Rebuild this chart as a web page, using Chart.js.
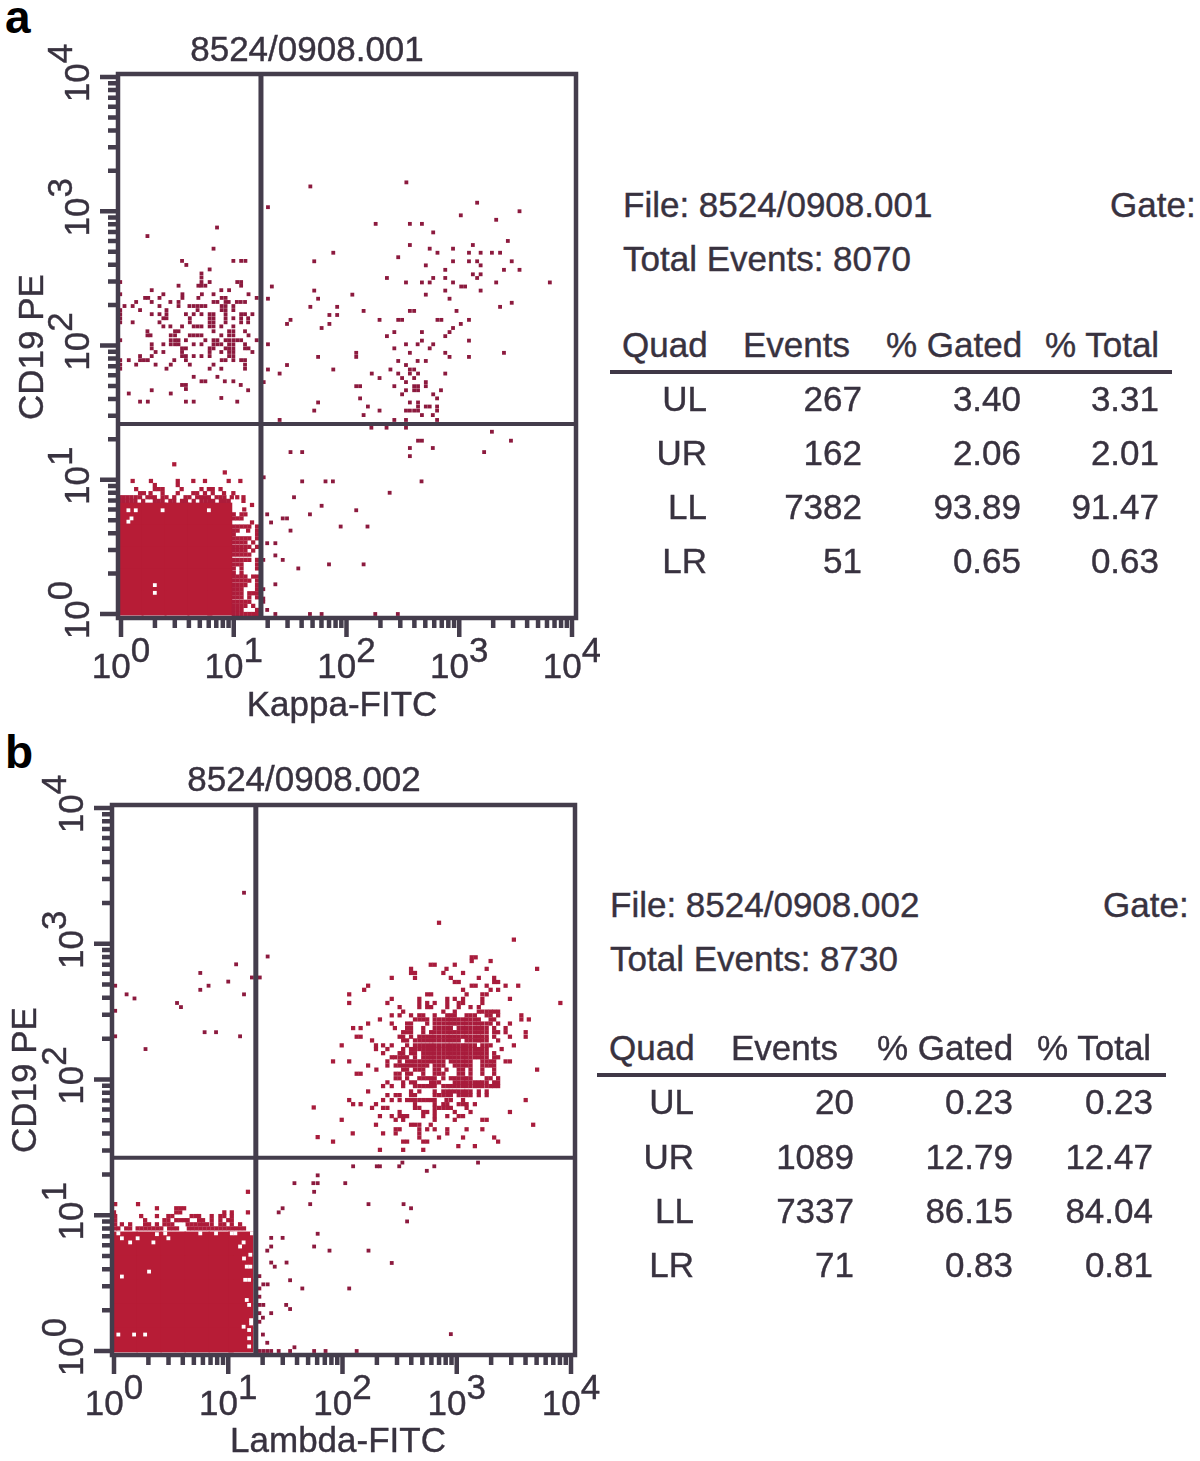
<!DOCTYPE html>
<html>
<head>
<meta charset="utf-8">
<title>CD19 PE vs Kappa / Lambda FITC</title>
<script src="https://cdn.jsdelivr.net/npm/chart.js@4"></script>
<style>
  html, body { margin: 0; padding: 0; background: #fff; }
  body { position: relative; width: 1200px; height: 1461px; overflow: hidden; font-family: "Liberation Sans", Arial, sans-serif; color: #38323f; }
  canvas { position: absolute; left: 0; }
  .txt { position: absolute; font-size: 35px; line-height: 1; white-space: nowrap; -webkit-text-stroke: 0.4px #38323f; }
  .letter { position: absolute; font-size: 46px; line-height: 1; font-weight: bold; color: #000; }
  .rule { position: absolute; height: 4px; background: #3f3847; }
</style>
</head>
<body>
<div class="letter" style="left:5px;top:-6px">a</div>
<div class="letter" style="left:5px;top:729px">b</div>
<canvas id="panel-a" width="600" height="730" style="top:0"></canvas>
<canvas id="panel-b" width="600" height="731" style="top:730px"></canvas>
<div id="readouts"></div>

<script>
var channelsPerDecadeX = 29;
var channelsPerDecadeY = 33;

var decades = [0, 1, 2, 3, 4];
var minorSteps = [2, 3, 4, 5, 6, 7, 8, 9];

// --panel a, Kappa
var gateXA = 36;
var gateYA = 46.7;

var ulRowsA = [
  [95, 24.7], [92.9, 6.8], [89.8, 23.8], [86.8, 15.7, 28.9, 30.9, 32], [85.8, 16.8], [84.7, 22.8], [83.7, 20.7], [82.7, 20.7],
  [81.6, -0.2, 20.7, 22.8, 29.9, 30.9], [80.7, 14.8, 19.9, 20.7, 21.7, 30.9], [79.6, 7.9, 25.8, 27.8],
  [78.6, -0.2, 10.9, 15.8, 20.8, 23.8, 32.8], [77.7, 6.2, 7, 9.9, 15.8, 19.9, 25.9, 26.9, 34.9],
  [76.7, 3.9, 7.9, 12.7, 14.8, 23.8, 24.8, 26.9, 27.7, 29.8, 30.8, 31.9],
  [75.7, 0.9, 3, 9.9, 14.8, 17.6, 18.7, 19.7, 20.7, 21.7, 25.9, 26.9, 28.9],
  [74.7, -0.2, 4.9, 11.7, 19.7, 25.9, 26.9, 28.9],
  [73.7, -0.2, 7.9, 9.9, 11.7, 16.7, 18.7, 20.7, 22.8, 23.8, 26.9, 30.9, 31.9, 33.8],
  [72.7, -0.2, 10.9, 11.7, 17.7, 22.8, 23.8, 26.9, 28.9, 30.9, 32.7],
  [71.7, -0.2, 3, 9.9, 17.7, 22.8, 23.8, 26.9, 30.9, 32.7],
  [70.7, 10.9, 12.7, 15.7, 18.7, 19.7, 20.7, 22.8, 23.8, 25.8, 28.9],
  [69.5, 6.8, 13.9, 14.8, 23.8, 27.8, 28.9, 31.9],
  [68.5, 6.8, 7.6, 12.8, 13.9, 17.7, 18.7, 19.7, 20.7, 25.8, 27.8, 28.9, 32.8],
  [67.3, -0.2, 12.8, 13.9, 14.8, 16.7, 21.7, 23.8, 24.8, 26.9, 27.8, 28.9, 29.9, 30.9, 34.9],
  [66.3, 7.9, 10.9, 12.8, 13.9, 14.8, 18.7, 20.7, 23.8, 24.8, 25.8, 27.8, 28.9, 31.9],
  [65.3, 7.9, 15.7, 16.7, 22.8, 23.8, 26.9, 27.8, 28.9, 31.9, 32.8],
  [64.4, 8.9, 10.9, 15.7, 22.8, 25.8, 27.8, 28.9, 33.8],
  [63.4, 4.9, 7.9, 15.7, 16.7, 18.7, 20.7, 22.8, 27.8, 28.9],
  [62.4, -0.2, 2, 4.9, 5.9, 6.9, 13.7, 16.7, 25.9, 26.9, 28.9, 30.9, 31.9],
  [61.3, -0.2, 3.9, 8.9, 12.8, 17.7, 23.8, 31.9], [60.3, -0.2, 11.7, 22.8, 25.8, 31.9],
  [58.3, 18.7, 24.8], [57.2, 20.7, 21.7, 26.7, 28.9], [56.3, 15.7, 16.7, 30.8], [55.3, 16.7], [55, 7.9, 32.7],
  [54.2, 2, 12.8], [53.1, 25.8], [52.2, 4.9, 6.9, 16.7, 18.7, 29.9]
];

var urRowsA = [
  [106.1, 73.4], [105.1, 48.7], [101.1, 91.6], [100, 37.8], [99, 102.5], [98, 87.4], [96.9, 96.5], [95.9, 65.5, 74.3, 77.4],
  [93.8, 80.3], [91.7, 99.5], [90.7, 74.3, 90.5], [89.8, 79.4, 85.4], [88.8, 54.6, 81.4, 89.5, 92.5, 95.4, 97.5], [87.7, 71.3],
  [86.7, 49.7, 85.4, 89.5, 91.6, 100.5], [85.7, 78.4, 92.5], [84.6, 83.4, 98.5, 102.5], [83.5, 90.5, 92.5],
  [82.6, 68.4, 80.3, 83.4, 91.6], [81.5, 73.3, 77.4, 79.4, 85.4, 96.5, 110.3], [80.5, 38.8, 87.5, 88.5], [79.5, 49.7, 83.4, 92.5],
  [78.5, 59.5, 78.4], [77.5, 37.8, 50.7, 84.5], [76.5, 100.5], [75.5, 48.7, 55.6, 97.5], [74.5, 62.4, 74.3, 75.4, 86.3],
  [73.5, 53.6, 55.6], [72.3, 43.6, 66.5, 71.3, 72.3, 81.4, 82.4, 89.5], [71.3, 42.7, 53.6, 87.4], [70.3, 51.6, 85.4],
  [69.3, 70.3, 77.4, 84.5], [68.3, 68.4, 83.4], [67.2, 77.4, 89.5], [66.3, 37.8, 73.3, 76.3, 80.3], [65.3, 70.3, 79.4],
  [64.2, 60.5, 74.3, 83.4, 98.5], [63.2, 50.7, 60.5, 84.5, 89.5], [62.2, 71.3, 76.3, 78.4], [61.2, 42.7, 73.3],
  [60.1, 37.8, 54.6, 69.3, 74.3, 75.4], [59.1, 40.8, 64.5, 71.3, 74.3, 76.4, 83.4], [58, 66.5, 72.3, 75.4], [57, 36.7, 73.3, 78.4],
  [56, 60.5, 61.5, 70.3, 75.4, 76.4, 78.4], [55, 73.3, 75.4, 76.4, 82.3], [54, 72.3, 80.3], [53, 61.5, 81.3], [52, 50.7, 74.3, 76.4],
  [51, 63.5, 76.4, 78.4, 79.4, 81.3], [50, 49.7, 66.5, 73.3, 74.3, 75.4, 76.4, 81.3], [48.9, 62.4, 77.4, 80.2], [47.7, 40.8, 70.3, 73.3, 81.3]
];

var lrRowsA = [
  [45.8, 64.4, 68.3, 73.3], [44.8, 95.4], [42.6, 76.4, 77.4, 100.3], [40.8, 74.3, 80.2], [39.8, 43.6, 46.6, 93.4], [38.8, 74.3],
  [33.6, 36.7], [32.6, 46.6, 52.6, 54.5, 77.3], [29.8, 69.1], [28.7, 44.5], [26.6, 51.6], [25.5, 60.5], [24.5, 37.6, 48.6],
  [23.5, 41.6, 42.7], [22.5, 38.6], [21.5, 56.5, 63.4], [20.5, 43.6], [17.4, 37.6, 39.7], [14.4, 39.7], [13.3, 36.6, 41.6],
  [12.2, 53.5, 62.4], [11.2, 45.6], [7.3, 39.7], [6.1, 36.6], [3.8, 36.6], [3, 36.6], [1, 37.6], [0, 39.7, 48.6, 51.6, 65.4, 71.2]
];

// solid part of the LL population, one big mark per block
var llCoreA = [
  [24.3, 2.6, 8.5, 14.4, 20.3, 25.4], [18.9, 2.6, 8.5, 14.4, 20.3, 25.4], [13.5, 2.6, 8.5, 14.4, 20.3, 25.4],
  [8.1, 2.6, 8.5, 14.4, 20.3, 25.4], [2.7, 2.6, 8.5, 14.4, 20.3, 25.4]
];

var llFringeA = [
  [36.8, 13.7], [34.8, 26.7], [32.7, 3, 7.7, 14.6, 18.6, 21.6, 27.7, 30.7], [31.7, 8.7, 14.6],
  [30.7, 3.9, 8.7, 9.7, 10.7, 15.6, 20.7, 22.6, 23.6, 25.6],
  [29.7, 4.9, 5.9, 7.6, 10.7, 14.6, 18.6, 19.6, 21.6, 23.6, 26.5, 28.9],
  [28.7, -0.3, 0.7, 1.7, 2.7, 3.8, 4.9, 6.8, 7.7, 8.7, 10.7, 11.7, 13.7, 16.6, 17.6, 19.6, 20.6, 21.6, 22.6, 24.6, 25.6, 26.6, 28.5, 29.9, 31.5],
  [27.8, -0.3, 0.7, 1.7, 2.7, 3.7, 5.7, 8.7, 9.7, 10.7, 12.7, 13.7, 15.7, 16.7, 18.7, 20.7, 21.7, 22.7, 23.7, 25.7, 26.7, 27.7, 31.5],
  [26.8, 33.7], [25.7, 31.7], [24.5, 29, 31, 32], [23.5, 29, 30, 31], [22.5, 33.7], [21.5, 29, 30, 31, 32, 33, 35],
  [20.5, 29, 30, 32.7, 35], [19.6, 29, 35], [18.6, 29, 30, 31, 32, 33, 35], [17.6, 29, 30, 31, 32, 34], [16.5, 29, 30, 31, 32, 33, 35],
  [15.6, 29, 30, 31, 32, 34], [14.6, 29, 30, 31, 32, 33], [13.3, 29, 30, 31, 32, 33, 35], [12.2, 29, 30, 31, 35], [11.2, 29, 31, 35],
  [10.1, 29, 31], [9.2, 29, 30, 31, 32, 34, 35], [8.2, 29, 30, 31, 32, 33, 35], [7.1, 29, 30, 31, 32, 35], [6.1, 29, 30, 31, 35],
  [5.1, 29, 30, 31, 33, 34, 35], [4.1, 29, 30, 31, 33, 35], [3, 29, 30, 31, 32, 33], [2, 29, 30, 31, 32, 34], [1, 29, 30, 31, 35],
  [0, 29, 30, 31, 32, 33, 34, 35]
];

// channels left empty inside the solid block
var llEmptyA = [[25.5, 1.9, 3.8, 10.7, 22.6], [23.5, 2.7], [22.7, 1.9], [7.1, 8.7], [5.2, 8.7]];

// --panel b, Lambda
var gateXB = 36;
var gateYB = 47;

var ulRowsB = [
  [111.4, 33], [95.9, 39], [94, 31], [91.9, 21.9], [90.8, 35, 36, 37], [89.8, 29], [88.8, 0.3, 24], [87.8, 21.9], [86.7, 3.2, 33],
  [85.7, 5.2], [84.6, 16], [83.6, 17], [82.7, 0.3], [77.5, 23, 25.9], [76.5, 0.3, 32], [73.4, 8]
];

var urRowsB = [
  [104.1, 82.5], [100, 101.5], [95.7, 90.8, 91.8], [94.8, 90.8, 95.6], [93.9, 80.4, 81.4, 86.5], [92.9, 75.4, 84.4, 94.6, 107.4],
  [91.9, 75.4, 76.4, 83.6, 88.6], [90.7, 70.5, 76.4, 85.5, 92.6, 96.5], [89.7, 86.5, 87.5, 96.5, 97.5],
  [88.8, 64.5, 90.8, 91.8, 94.6, 99.4, 102.6], [87.8, 63.5, 88.6, 95.6, 97.5], [86.7, 59.7, 79.5, 80.5, 89.5, 93.5, 94.6],
  [85.6, 70.5, 77.5, 84.6, 86.5, 88.6, 93.5, 100.5], [84.6, 59.7, 69.4, 77.5, 79.5, 81.4, 84.6, 87.5, 88.6, 93.5, 113.3],
  [83.6, 72.5, 77.5, 79.5, 80.5, 84.6, 87.5, 90.5, 92.6], [82.5, 73.4, 83.6, 86.5, 92.6, 93.5, 94.6, 95.6, 96.5, 97.5],
  [81.6, 70.5, 72.5, 75.4, 77.5, 78.5, 81.4, 84.6, 85.5, 86.5, 89.5, 90.5, 91.6, 94.6, 95.6, 97.5, 103.4],
  [80.6, 67.5, 76.4, 77.5, 78.5, 79.5, 81.4, 82.5, 83.6, 84.6, 85.5, 86.5, 87.5, 88.6, 89.5, 90.5, 91.6, 92.6, 95.6, 96.5, 103.4, 105.3],
  [79.6, 64.5, 70.5, 74.4, 75.4, 79.5, 81.4, 82.5, 83.6, 84.6, 85.5, 86.5, 87.5, 88.6, 89.5, 90.5, 91.6, 92.6, 93.5, 94.6, 95.6, 97.5, 100.5],
  [78.5, 60.7, 62.6, 71.3, 74.4, 75.4, 78.5, 81.4, 82.5, 83.6, 84.6, 85.5, 87.5, 88.6, 89.5, 90.5, 91.6, 92.6, 93.5, 94.6, 96.5, 99.4],
  [77.5, 73.4, 74.4, 75.4, 78.5, 80.5, 81.4, 82.5, 83.6, 84.6, 85.5, 86.5, 87.5, 88.6, 89.5, 90.5, 91.6, 92.6, 93.5, 94.6, 96.5, 97.5, 99.4, 104.5],
  [76.4, 61.6, 62.6, 72.5, 73.4, 75.4, 77.5, 78.5, 79.5, 80.5, 81.4, 82.5, 83.6, 84.6, 85.5, 86.5, 87.5, 88.6, 89.5, 90.5, 91.6, 92.6, 93.5, 94.6, 96.5, 100.5, 104.5],
  [75.5, 65.5, 73.4, 74.4, 76.4, 77.5, 78.5, 79.5, 80.5, 81.4, 82.5, 83.6, 84.6, 85.5, 86.5, 87.5, 89.5, 90.5, 91.6, 92.6, 93.5, 94.6, 97.5],
  [74.3, 57.8, 66.5, 68.3, 70.5, 74.4, 76.4, 77.5, 78.5, 79.5, 80.5, 81.4, 82.5, 83.6, 84.6, 85.5, 86.5, 87.5, 88.6, 89.5, 90.5, 91.6, 93.5, 94.6, 95.6, 101.5],
  [73.4, 66.5, 69.4, 73.4, 75.4, 76.4, 77.5, 78.5, 79.5, 80.5, 81.4, 82.5, 83.6, 84.6, 85.5, 86.5, 87.5, 88.6, 89.5, 90.5, 91.6, 92.6, 93.5, 94.6, 98.4],
  [72.4, 68.3, 72.5, 73.4, 75.4, 76.4, 78.5, 79.5, 80.5, 81.4, 82.5, 83.6, 84.6, 85.5, 86.5, 87.5, 88.6, 89.5, 90.5, 91.6, 92.6, 93.5, 94.6, 96.5],
  [71.4, 70.5, 71.4, 72.5, 73.4, 74.4, 76.4, 78.5, 79.5, 80.5, 81.4, 82.5, 83.6, 84.6, 85.5, 86.5, 87.5, 88.6, 89.5, 90.5, 91.6, 92.6, 93.5, 94.6, 96.5, 97.5],
  [70.4, 55.6, 59.7, 69.4, 72.5, 74.4, 75.4, 76.4, 77.5, 78.5, 79.5, 80.5, 81.4, 82.5, 83.6, 85.5, 86.5, 87.5, 88.6, 89.5, 90.5, 93.5, 94.6, 95.6, 96.5, 99.4, 100.5],
  [69.4, 64.5, 69.4, 71.5, 72.5, 73.4, 74.4, 75.4, 76.4, 77.5, 78.5, 79.5, 81.4, 82.5, 83.6, 86.5, 87.5, 88.6, 89.5, 90.5, 93.5, 94.6, 95.6, 96.5],
  [68.4, 66.6, 73.4, 74.4, 76.4, 77.5, 78.5, 81.4, 82.5, 84.4, 87.5, 88.6, 90.5, 93.5, 96.5, 107.4],
  [67.4, 61.6, 62.6, 71.5, 72.5, 74.4, 75.4, 78.5, 81.4, 82.5, 83.6, 87.5, 88.6, 90.5, 93.5, 96.5],
  [66.3, 71.5, 72.5, 74.4, 77.5, 78.5, 79.5, 80.5, 81.4, 83.6, 85.5, 86.5, 87.5, 88.6, 89.5, 90.5, 94.6, 95.6, 97.5],
  [65.3, 69.4, 73.4, 75.4, 76.4, 80.5, 81.4, 82.5, 86.5, 87.5, 88.6, 89.5, 90.5, 91.6, 92.6, 93.5, 94.6, 96.5, 97.5],
  [64.4, 68.3, 70.5, 73.4, 76.4, 77.5, 78.5, 79.5, 80.5, 81.4, 83.6, 84.6, 85.5, 86.5, 87.5, 88.6, 89.5, 90.5, 91.6, 92.6, 93.5, 94.6, 95.6, 96.5, 97.5],
  [63.1, 64.5, 75.4, 77.5, 81.4, 83.6, 84.6, 85.5, 86.5, 87.5, 88.6, 89.5, 90.5, 92.6, 94.6],
  [62.2, 69.4, 71.5, 72.5, 75.4, 76.4, 81.4, 82.5, 83.6, 84.6, 85.5, 87.5, 88.6, 89.5, 90.5, 92.6, 94.6],
  [61, 59.7, 68.3, 70.5, 72.5, 74.4, 75.4, 76.4, 77.5, 78.5, 79.5, 80.5, 81.4, 84.4, 85.5, 88.6, 104.5],
  [60, 60.7, 62.6, 66.5, 76.4, 81.4, 83.6, 84.6, 87.5, 88.6, 89.5, 91.6],
  [59.2, 50.7], [59.1, 65.5, 68.3, 69.4, 76.4, 77.5, 81.4, 82.5, 83.6, 84.6, 85.5, 89.5],
  [58.1, 72.5, 78.5, 79.5, 81.4, 86.5, 90.5, 100.5], [57.1, 67.5, 70.5, 72.5, 73.4, 74.4, 78.5, 81.4, 84.6, 87.5, 88.6],
  [56.2, 57.8, 71.5, 73.4, 81.4, 86.5, 93.5, 94.6], [55, 66.5, 75.4, 76.4, 77.5, 80.4, 106.4],
  [53.9, 71.5, 72.5, 77.5, 79.5, 81.4, 84.6, 89.5, 93.5], [52.9, 60.6, 68.3, 71.5, 77.5, 84.6], [52, 51.7],
  [51.9, 77.5, 82.5, 88.6, 96.5], [50.9, 55.6, 73.4, 74.4, 78.5, 79.5, 97.5], [49.8, 87.4, 91.6], [48.9, 67.5, 73.4, 78.5]
];

var lrRowsB = [
  [45.8, 73.2, 92.4], [44.9, 60.7, 66.7, 67.5, 72.4, 81.3], [43.8, 79.4], [42.7, 51.7], [40.8, 45.8, 50.6, 51.7, 58.7], [38.7, 50.8],
  [35.7, 49.8, 64.6, 73.5], [34.7, 42.8, 75.4], [33.7, 41.8], [31.5, 74.4], [28.5, 51.7], [27.5, 39.9, 42.8], [25.4, 39.9, 50.8],
  [24.4, 38.9, 54.7, 64.6], [21.5, 39.9, 43.8], [21.4, 70.5], [20.5, 40.8], [18.2, 36.9], [17.2, 44.7], [16.2, 37.9, 39],
  [15.2, 36.9, 47.8, 59.7], [13.2, 36.9], [11.2, 36.9, 37.9, 43.7], [10.2, 44.7], [9.2, 36.9, 39.9], [8.1, 37.8], [7.1, 36.9],
  [4.1, 85.5], [4, 37.8], [2, 38.9], [0.9, 45.8], [0, 36.9, 37.9, 38.9, 39.9, 41.8, 44.7, 50.8, 53.7, 61.6]
];

var llCoreB = [
  [26, 2.8, 8.9, 15, 21.1, 27.2, 32.2], [20.2, 2.8, 8.9, 15, 21.1, 27.2, 32.2], [14.4, 2.8, 8.9, 15, 21.1, 27.2, 32.2],
  [8.5, 2.8, 8.9, 15, 21.1, 27.2, 32.2], [2.7, 2.8, 8.9, 15, 21.1, 27.2, 32.2]
];

var llFringeB = [
  [38.7, 34], [35.7, 0.3, 6.1], [34.7, 10.9, 15.8, 16.8, 17.8], [33.7, 0, 15.8, 16.8, 28, 29.9, 34],
  [32.8, 0.3, 6.9, 10.9, 13.8, 14.8, 19.7, 20.7, 21.6, 24.8, 27, 28, 29.9],
  [31.8, 0.3, 7.9, 12.8, 13.8, 15.8, 16.8, 17.8, 18.7, 21.6, 22.6, 24.8, 27, 29, 29.9],
  [30.8, 0.3, 2, 4.1, 7.9, 8.9, 10.9, 12.8, 13.8, 14.8, 18.7, 19.7, 20.7, 21.7, 22.6, 23.6, 24.8, 27, 28, 29.9, 32],
  [29.8, 0.3, 1.1, 3.1, 4.1, 6, 7, 8, 9, 10, 11, 12, 14, 15, 16, 19, 20, 21, 22, 23, 24, 25, 26, 27, 28, 29, 30, 31, 32, 33]
];

var llEmptyB = [
  [28.6, 1.1, 13, 21.9, 25.9, 29.9, 30.8, 35], [28.4, 10.9], [27.4, 2, 6, 13.8], [26.4, 4.1, 10, 32.9], [25.4, 32], [23.4, 34.6],
  [22.5, 33], [20.5, 33.7, 34.6], [19.3, 8.9], [18.1, 2], [17.3, 33.3, 34.3], [12.4, 33.7], [11.2, 34.3], [7.5, 34.8], [6.7, 34.8],
  [5.9, 32.9], [5.1, 34.3], [4, 1.1, 5.1, 7.9], [3.1, 34.3], [1.1, 34.3]
];

// --readout tables
var quadNames = ['UL', 'UR', 'LL', 'LR'];
var eventsA = ['267', '162', '7382', '51'];
var gatedA = ['3.40', '2.06', '93.89', '0.65'];
var totalA = ['3.31', '2.01', '91.47', '0.63'];
var eventsB = ['20', '1089', '7337', '71'];
var gatedB = ['0.23', '12.79', '86.15', '0.83'];
var totalB = ['0.23', '12.47', '84.04', '0.81'];

function toX(channel) { return Math.pow(10, channel / channelsPerDecadeX); }
function toY(channel) { return Math.pow(10, channel / channelsPerDecadeY); }

function toPoints(rows) {
  var points = [];
  rows.forEach(function(row) {
    row.slice(1).forEach(function(x) {
      points.push({x: toX(x), y: toY(row[0])});
    });
  });
  return points;
}

function markSet(rows, color, radius) {
  return {data: toPoints(rows), backgroundColor: color, borderWidth: 0, pointStyle: 'rect', pointRadius: radius, clip: false};
}

function gateLine(points, width) {
  return {
    data: points.map(function(p) { return {x: toX(p[0]), y: toY(p[1])}; }),
    showLine: true, pointRadius: 0, borderColor: '#443d4c', borderWidth: width, clip: false
  };
}

function boldText(ctx, text, x, y) {
  ctx.fillText(text, x, y);
  ctx.strokeText(text, x, y);
}

// frame, log ticks and superscript labels, all placed through the chart scales
var plotFrame = {
  id: 'plotFrame',
  afterDatasetsDraw: function(chart, args, opts) {
    var ctx = chart.ctx, xs = chart.scales.x, ys = chart.scales.y;
    var left = xs.left - opts.box[0], top = ys.top - opts.box[1], right = xs.right + opts.box[2], bottom = ys.bottom + opts.box[3];
    ctx.save();
    ctx.strokeStyle = '#443d4c';
    ctx.lineWidth = 4.5;
    ctx.strokeRect(left, top, right - left, bottom - top);

    ctx.beginPath();
    decades.forEach(function(d, i) {
      var v = Math.pow(10, d);
      var px = xs.getPixelForValue(v), py = ys.getPixelForValue(v);
      ctx.moveTo(px, bottom); ctx.lineTo(px, bottom + 19);
      ctx.moveTo(left, py); ctx.lineTo(left - 18, py);
      if(i == decades.length - 1) return;
      minorSteps.forEach(function(m) {
        var mx = xs.getPixelForValue(m * v), my = ys.getPixelForValue(m * v);
        ctx.moveTo(mx, bottom); ctx.lineTo(mx, bottom + 10);
        ctx.moveTo(left, my); ctx.lineTo(left - 10, my);
      });
    });
    ctx.stroke();

    ctx.fillStyle = '#38323f';
    ctx.strokeStyle = '#38323f';
    ctx.lineWidth = 0.4;
    ctx.font = '35px "Liberation Sans", Arial, sans-serif';
    ctx.textBaseline = 'alphabetic';
    var tenWidth = ctx.measureText('10').width;
    decades.forEach(function(d) {
      var v = Math.pow(10, d), sup = String(d), full = tenWidth + ctx.measureText(sup).width;
      var px = xs.getPixelForValue(v), py = ys.getPixelForValue(v);
      // x axis
      ctx.textAlign = 'left';
      boldText(ctx, '10', px - full / 2, bottom + 60);
      boldText(ctx, sup, px - full / 2 + tenWidth, bottom + 44);
      // y axis, rotated
      ctx.save();
      ctx.translate(left - 29, py + opts.yLabelShift);
      ctx.rotate(-Math.PI / 2);
      boldText(ctx, '10', -full / 2, 0);
      boldText(ctx, sup, -full / 2 + tenWidth, -17);
      ctx.restore();
    });

    ctx.textAlign = 'center';
    boldText(ctx, opts.title, opts.titleAt[0], opts.titleAt[1]);
    boldText(ctx, opts.xTitle, opts.xTitleAt[0], opts.xTitleAt[1]);
    ctx.save();
    ctx.translate(opts.yTitleAt[0], opts.yTitleAt[1]);
    ctx.rotate(-Math.PI / 2);
    boldText(ctx, opts.yTitle, 0, 0);
    ctx.restore();
    ctx.restore();
  }
};

function buildPanel(id, padding, datasets, frame) {
  new Chart(document.getElementById(id), {
    type: 'scatter',
    data: {datasets: datasets},
    plugins: [plotFrame],
    options: {
      responsive: false,
      animation: false,
      events: [],
      layout: {padding: padding},
      scales: {
        x: {type: 'logarithmic', min: 1, max: 10000, display: false},
        y: {type: 'logarithmic', min: 1, max: 10000, display: false}
      },
      plugins: {legend: {display: false}, tooltip: {enabled: false}, plotFrame: frame}
    }
  });
}

var sparseColor = '#8c1a3e';
var fringeColor = '#ad1c3a';
var coreColor = '#b71c36';

// the first dataset is drawn on top
buildPanel('panel-a', {left: 121, right: 28, top: 77, bottom: 116}, [
  gateLine([[gateXA, -1], [gateXA, 132.7]], 5),
  gateLine([[-0.6, gateYA], [117, gateYA]], 4),
  markSet(llEmptyA, '#ffffff', 2.7),
  markSet(ulRowsA, sparseColor, 2.7),
  markSet(urRowsA, sparseColor, 2.7),
  markSet(lrRowsA, sparseColor, 2.7),
  markSet(llFringeA, fringeColor, 3),
  markSet(llCoreA, coreColor, 17.7)
], {
  box: [3, 3, 4, 4], yLabelShift: -4,
  title: '8524/0908.001', titleAt: [307, 61],
  xTitle: 'Kappa-FITC', xTitleAt: [342, 716],
  yTitle: 'CD19 PE', yTitleAt: [43, 347]
});

buildPanel('panel-b', {left: 114, right: 29, top: 78, bottom: 110}, [
  gateLine([[gateXB, -1], [gateXB, 132.7]], 5),
  gateLine([[-0.5, gateYB], [117, gateYB]], 4),
  markSet(llEmptyB, '#ffffff', 2.7),
  markSet(ulRowsB, sparseColor, 2.7),
  markSet(urRowsB, '#a81c3c', 3),
  markSet(lrRowsB, sparseColor, 2.7),
  markSet(llFringeB, fringeColor, 3),
  markSet(llCoreB, coreColor, 17.7)
], {
  box: [2, 3, 4, 4], yLabelShift: -4,
  title: '8524/0908.002', titleAt: [304, 61],
  xTitle: 'Lambda-FITC', xTitleAt: [338, 722],
  yTitle: 'CD19 PE', yTitleAt: [36, 350]
});

// --text blocks on the right
var readouts = document.getElementById('readouts');

function addText(text, x, baseline, align) {
  var el = document.createElement('div');
  el.className = 'txt';
  el.textContent = text;
  el.style.top = (baseline - 29.6) + 'px';
  if(align == 'right') {
    el.style.left = (x - 300) + 'px';
    el.style.width = '300px';
    el.style.textAlign = 'right';
  } else {
    el.style.left = x + 'px';
  }
  readouts.appendChild(el);
}

function addReadout(name, totalEvents, pos, events, gated, total) {
  addText('File: ' + name, pos.file, pos.fileY);
  addText('Gate:', pos.gate, pos.fileY);
  addText('Total Events: ' + totalEvents, pos.file, pos.fileY + 54);
  addText('Quad', pos.head[0], pos.headY);
  addText('Events', pos.head[1], pos.headY);
  addText('% Gated', pos.head[2], pos.headY);
  addText('% Total', pos.head[3], pos.headY);
  var rule = document.createElement('div');
  rule.className = 'rule';
  rule.style.left = pos.rule[0] + 'px';
  rule.style.width = (pos.rule[1] - pos.rule[0]) + 'px';
  rule.style.top = (pos.headY + 13) + 'px';
  readouts.appendChild(rule);
  quadNames.forEach(function(q, i) {
    var y = pos.rowY + i * pos.rowStep;
    addText(q, pos.cols[0], y, 'right');
    addText(events[i], pos.cols[1], y, 'right');
    addText(gated[i], pos.cols[2], y, 'right');
    addText(total[i], pos.cols[3], y, 'right');
  });
}

addReadout('8524/0908.001', '8070', {
  file: 623, gate: 1110, fileY: 217, headY: 357, head: [622, 743, 886, 1045], rule: [610, 1172],
  rowY: 411, rowStep: 54, cols: [707, 862, 1021, 1159]
}, eventsA, gatedA, totalA);

addReadout('8524/0908.002', '8730', {
  file: 610, gate: 1103, fileY: 917, headY: 1060, head: [609, 731, 877, 1037], rule: [597, 1166],
  rowY: 1114, rowStep: 54.3, cols: [694, 854, 1013, 1153]
}, eventsB, gatedB, totalB);
</script>
</body>
</html>
